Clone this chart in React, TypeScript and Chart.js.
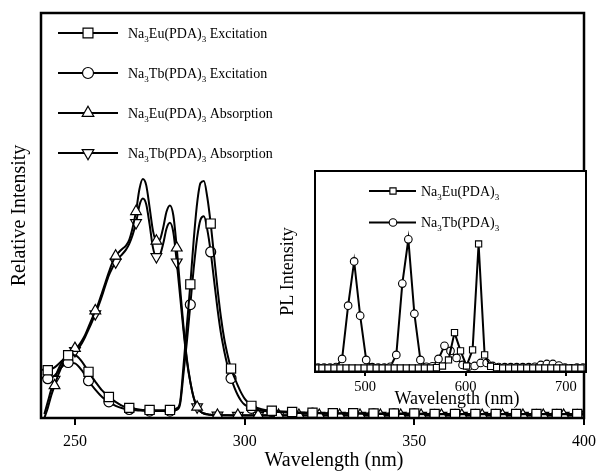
import React, { useEffect, useRef } from 'react';
import { Chart, registerables } from 'chart.js';

Chart.register(...registerables);

const SERIF = '"Liberation Serif", "Times New Roman", serif';

// ---------- main plot data (wavelength nm -> relative intensity) ----------
const absX = [
  241, 242, 243, 244, 245, 246, 247, 248, 249, 250,
  251, 252, 253, 254, 255, 256, 257, 258, 259, 260,
  261, 262, 263, 264, 265, 266, 267, 268, 269, 270,
  271, 272, 273, 274, 275, 276, 277, 278, 279, 280,
  281, 282, 283, 284, 285, 286, 287, 288, 289, 290,
  291, 292,
  298, 304, 310, 316, 322, 328, 334, 340, 346, 352, 358, 364, 370, 376, 382, 388, 394, 400,
];
const euAbsY = [
  0.0, 0.025, 0.055, 0.08, 0.105, 0.125, 0.145, 0.16, 0.168, 0.172,
  0.178, 0.19, 0.205, 0.225, 0.245, 0.265, 0.285, 0.31, 0.335, 0.36,
  0.383, 0.4, 0.41, 0.418, 0.425, 0.44, 0.47, 0.51, 0.565, 0.59,
  0.575, 0.52, 0.462, 0.437, 0.44, 0.47, 0.51, 0.525, 0.5, 0.42,
  0.32, 0.225, 0.145, 0.09, 0.05, 0.027, 0.016, 0.011, 0.009, 0.008,
  0.007, 0.007,
  0.007, 0.007, 0.007, 0.007, 0.007, 0.007, 0.007, 0.007, 0.007, 0.007, 0.007, 0.007, 0.007, 0.007, 0.007, 0.007, 0.007, 0.007,
];
const tbAbsY = [
  0.01, 0.04, 0.07, 0.095, 0.118, 0.135, 0.148, 0.157, 0.162, 0.166,
  0.172, 0.184, 0.2, 0.218, 0.237, 0.257, 0.278, 0.302, 0.328, 0.352,
  0.37, 0.385, 0.396, 0.405, 0.415, 0.43, 0.452, 0.482, 0.525, 0.542,
  0.528, 0.478, 0.42, 0.398, 0.402, 0.43, 0.468, 0.482, 0.458, 0.385,
  0.3, 0.215, 0.14, 0.088, 0.05, 0.027, 0.016, 0.011, 0.009, 0.008,
  0.007, 0.007,
  0.006, 0.006, 0.006, 0.006, 0.006, 0.006, 0.006, 0.006, 0.006, 0.006, 0.006, 0.006, 0.006, 0.006, 0.006, 0.006, 0.006, 0.006,
];

const excX = [
  240, 242, 244, 246, 248, 250, 252, 254, 256, 258, 260, 262, 264, 266, 268, 270, 272, 274, 276, 278, 280,
  281, 282, 283, 284, 285, 286, 287, 288, 289, 290, 291, 292, 293, 294, 295, 296, 297, 298, 299,
  300, 302, 304, 306, 308,
  314, 320, 326, 332, 338, 344, 350, 356, 362, 368, 374, 380, 386, 392, 398, 400,
];
const euExcY = [
  0.12, 0.118, 0.125, 0.14, 0.155, 0.155, 0.14, 0.114, 0.09, 0.068, 0.052, 0.04, 0.03, 0.025, 0.022, 0.02, 0.02, 0.019, 0.019, 0.02, 0.024,
  0.04, 0.13, 0.23, 0.33, 0.44, 0.53, 0.58, 0.585, 0.545, 0.48, 0.4, 0.32, 0.25, 0.195, 0.155, 0.122, 0.1, 0.08, 0.062,
  0.048, 0.03, 0.024, 0.02, 0.018,
  0.015, 0.013, 0.012, 0.012, 0.011, 0.011, 0.011, 0.01, 0.01, 0.01, 0.01, 0.01, 0.01, 0.01, 0.01, 0.01,
];
const tbExcY = [
  0.1, 0.097, 0.105, 0.125, 0.137, 0.135, 0.118, 0.092, 0.07, 0.052, 0.04, 0.03, 0.024, 0.021, 0.019, 0.018, 0.017, 0.017, 0.017, 0.017, 0.02,
  0.035, 0.11, 0.19, 0.28, 0.37, 0.445, 0.49, 0.498, 0.465, 0.41, 0.34, 0.27, 0.21, 0.165, 0.128, 0.098, 0.075, 0.056, 0.042,
  0.033, 0.024, 0.019, 0.017, 0.016,
  0.013, 0.012, 0.011, 0.011, 0.01, 0.01, 0.01, 0.009, 0.009, 0.009, 0.009, 0.009, 0.009, 0.009, 0.009, 0.009,
];

// ---------- inset data (PL emission) ----------
const tbPlX = [
  453, 459, 465, 471, 477, 483, 489, 495, 501, 507,
  513, 519, 525, 531, 537, 543, 549, 555, 561, 567,
  573, 579, 585, 591, 597, 603, 609, 615, 621, 627,
  633, 639, 645, 651, 657, 663, 669, 675, 681, 687,
  693, 699, 705, 711, 717,
];
const tbPlY = [
  0.022, 0.022, 0.022, 0.025, 0.065, 0.33, 0.55, 0.28, 0.06, 0.024,
  0.022, 0.022, 0.026, 0.085, 0.44, 0.66, 0.29, 0.06, 0.026, 0.028,
  0.065, 0.13, 0.105, 0.07, 0.035, 0.026, 0.03, 0.045, 0.045, 0.03,
  0.025, 0.024, 0.024, 0.024, 0.024, 0.024, 0.026, 0.035, 0.04, 0.04,
  0.032, 0.022, 0.018, 0.022, 0.022,
];
const euPlX = [
  451, 457, 463, 469, 475, 481, 487, 493, 499, 505,
  511, 517, 523, 529, 535, 541, 547, 553, 559, 565,
  571, 577, 583, 589, 595, 601, 607, 613, 619, 625,
  631, 637, 643, 649, 655, 661, 667, 673, 679, 685,
  691, 697, 703, 709, 715,
];
const euPlY = [
  0.02, 0.02, 0.02, 0.02, 0.02, 0.02, 0.02, 0.02, 0.02, 0.02,
  0.02, 0.02, 0.02, 0.02, 0.02, 0.02, 0.02, 0.02, 0.02, 0.02,
  0.022, 0.03, 0.06, 0.196, 0.105, 0.03, 0.11, 0.637, 0.085, 0.028,
  0.022, 0.02, 0.02, 0.02, 0.02, 0.02, 0.02, 0.02, 0.02, 0.02,
  0.02, 0.02, 0.02, 0.02, 0.02,
];

const mainXTicks = [250, 300, 350, 400];
const insetXTicks = [500, 600, 700];

const mainXTitle = 'Wavelength (nm)';
const mainYTitle = 'Relative Intensity';
const insetXTitle = 'Wavelength (nm)';
const insetYTitle = 'PL Intensity';

const mainLabels = [
  'Na_3Eu(PDA)_3 Excitation',
  'Na_3Tb(PDA)_3 Excitation',
  'Na_3Eu(PDA)_3 Absorption',
  'Na_3Tb(PDA)_3 Absorption',
];
const insetLabels = ['Na_3Eu(PDA)_3', 'Na_3Tb(PDA)_3'];

// ---------- drawing helpers ----------
function drawRich(ctx: CanvasRenderingContext2D, text: string, x: number, y: number, size: number) {
  const parts = text.split(/(_\d)/);
  let cx = x;
  ctx.textAlign = 'left';
  ctx.textBaseline = 'alphabetic';
  for (const p of parts) {
    if (!p) continue;
    if (p.startsWith('_')) {
      const s = p.slice(1);
      ctx.font = `${Math.round(size * 0.62)}px ${SERIF}`;
      ctx.fillText(s, cx, y + size * 0.3);
      cx += ctx.measureText(s).width;
    } else {
      ctx.font = `${size}px ${SERIF}`;
      ctx.fillText(p, cx, y);
      cx += ctx.measureText(p).width;
    }
  }
}

function drawMarker(ctx: CanvasRenderingContext2D, style: string, rot: number, x: number, y: number, r: number) {
  ctx.beginPath();
  if (style === 'circle') {
    ctx.arc(x, y, r, 0, Math.PI * 2);
  } else if (style === 'rect') {
    const s = r * Math.SQRT1_2;
    ctx.rect(x - s, y - s, 2 * s, 2 * s);
  } else {
    let a = (rot * Math.PI) / 180;
    ctx.moveTo(x + Math.sin(a) * r, y - Math.cos(a) * r);
    a += (2 * Math.PI) / 3;
    ctx.lineTo(x + Math.sin(a) * r, y - Math.cos(a) * r);
    a += (2 * Math.PI) / 3;
    ctx.lineTo(x + Math.sin(a) * r, y - Math.cos(a) * r);
    ctx.closePath();
  }
  ctx.fillStyle = '#fff';
  ctx.fill();
  ctx.stroke();
}

const pts = (xs: number[], ys: number[]) => xs.map((x, i) => ({ x, y: ys[i] }));

const markEvery = (start: number, r: number) => (c: any) =>
  c && c.raw && (c.raw.x - start) % 6 === 0 ? r : 0;

export default function App() {
  const mainRef = useRef<HTMLCanvasElement>(null);
  const insetRef = useRef<HTMLCanvasElement>(null);

  useEffect(() => {
    Chart.defaults.color = '#000';

    const mainStyles = [
      { style: 'rect', rot: 0, r: 6.5 },
      { style: 'circle', rot: 0, r: 5 },
      { style: 'triangle', rot: 0, r: 6.2 },
      { style: 'triangle', rot: 180, r: 6.2 },
    ];

    const lineBase = {
      borderColor: '#000',
      borderWidth: 2,
      pointBackgroundColor: '#fff',
      pointBorderColor: '#000',
      pointBorderWidth: 1.2,
      cubicInterpolationMode: 'monotone' as const,
      fill: false,
      clip: 0,
    };

    const mainDecor = {
      id: 'mainDecor',
      afterDraw(chart: any) {
        const ctx: CanvasRenderingContext2D = chart.ctx;
        const a = chart.chartArea;
        ctx.save();
        ctx.strokeStyle = '#000';
        ctx.lineWidth = 2.5;
        ctx.strokeRect(a.left, a.top, a.right - a.left, a.bottom - a.top);
        ctx.fillStyle = '#000';
        ctx.font = `20px ${SERIF}`;
        ctx.textAlign = 'center';
        ctx.textBaseline = 'middle';
        ctx.fillText(mainXTitle, 334, 461);
        ctx.save();
        ctx.translate(20, (a.top + a.bottom) / 2);
        ctx.rotate(-Math.PI / 2);
        ctx.fillText(mainYTitle, 0, 0);
        ctx.restore();
        // legend
        mainLabels.forEach((lab, i) => {
          const y = 33 + i * 40;
          ctx.strokeStyle = '#000';
          ctx.lineWidth = 2;
          ctx.beginPath();
          ctx.moveTo(58, y);
          ctx.lineTo(118, y);
          ctx.stroke();
          ctx.lineWidth = 1.2;
          const m = mainStyles[i];
          drawMarker(ctx, m.style, m.rot, 88, y, m.r + 0.5);
          ctx.fillStyle = '#000';
          drawRich(ctx, lab, 128, y + 4.5, 14);
        });
        ctx.restore();
      },
    };

    const main = new Chart(mainRef.current!, {
      type: 'line',
      data: {
        datasets: [
          { ...lineBase, label: mainLabels[0], data: pts(excX, euExcY), pointStyle: 'rect', pointRadius: markEvery(242, 6.5) },
          { ...lineBase, label: mainLabels[1], data: pts(excX, tbExcY), pointStyle: 'circle', pointRadius: markEvery(242, 5) },
          { ...lineBase, label: mainLabels[2], data: pts(absX, euAbsY), pointStyle: 'triangle', pointRadius: markEvery(244, 6.2) },
          { ...lineBase, label: mainLabels[3], data: pts(absX, tbAbsY), pointStyle: 'triangle', pointRotation: 180, pointRadius: markEvery(244, 6.2) },
        ] as any,
      },
      options: {
        animation: false,
        responsive: false,
        events: [],
        layout: { padding: { left: 41, right: 17, top: 13, bottom: 0 } },
        plugins: { legend: { display: false }, tooltip: { enabled: false } },
        scales: {
          x: {
            type: 'linear',
            min: 240,
            max: 400,
            afterBuildTicks: (s: any) => { s.ticks = mainXTicks.map((v) => ({ value: v })); },
            afterFit: (s: any) => { s.height = 56; },
            border: { display: false },
            grid: { drawOnChartArea: false, drawTicks: true, tickLength: 7, color: '#000', lineWidth: 2 },
            ticks: { font: { family: SERIF, size: 16 }, color: '#000', padding: 7, maxRotation: 0 },
          },
          y: { display: false, min: 0, max: 1 },
        },
      } as any,
      plugins: [mainDecor],
    });

    const insetStyles = [
      { style: 'rect', rot: 0, r: 4.4 },
      { style: 'circle', rot: 0, r: 3.8 },
    ];

    const insetDecor = {
      id: 'insetDecor',
      beforeDraw(chart: any) {
        const ctx: CanvasRenderingContext2D = chart.ctx;
        const a = chart.chartArea;
        ctx.save();
        ctx.fillStyle = '#fff';
        ctx.fillRect(a.left, a.top, a.right - a.left, a.bottom - a.top);
        ctx.restore();
      },
      afterDraw(chart: any) {
        const ctx: CanvasRenderingContext2D = chart.ctx;
        const a = chart.chartArea;
        ctx.save();
        ctx.strokeStyle = '#000';
        ctx.lineWidth = 2;
        ctx.strokeRect(a.left, a.top, a.right - a.left, a.bottom - a.top);
        ctx.fillStyle = '#000';
        ctx.font = `18px ${SERIF}`;
        ctx.textAlign = 'center';
        ctx.textBaseline = 'middle';
        ctx.fillText(insetXTitle, 187, 239);
        ctx.save();
        ctx.translate(18, (a.top + a.bottom) / 2);
        ctx.rotate(-Math.PI / 2);
        ctx.fillText(insetYTitle, 0, 0);
        ctx.restore();
        insetLabels.forEach((lab, i) => {
          const y = 31 + i * 31.5;
          ctx.strokeStyle = '#000';
          ctx.lineWidth = 2;
          ctx.beginPath();
          ctx.moveTo(99, y);
          ctx.lineTo(146, y);
          ctx.stroke();
          ctx.lineWidth = 1.1;
          const m = insetStyles[i];
          drawMarker(ctx, m.style, m.rot, 123, y, m.r);
          ctx.fillStyle = '#000';
          drawRich(ctx, lab, 151, y + 4.5, 14);
        });
        ctx.restore();
      },
    };

    const inset = new Chart(insetRef.current!, {
      type: 'line',
      data: {
        datasets: [
          { label: insetLabels[0], data: pts(euPlX, euPlY), borderColor: '#000', borderWidth: 2, tension: 0, pointStyle: 'rect', pointRadius: 4.4, pointBackgroundColor: '#fff', pointBorderColor: '#000', pointBorderWidth: 1.1 },
          { label: insetLabels[1], data: pts(tbPlX, tbPlY), borderColor: '#000', borderWidth: 2, tension: 0, pointStyle: 'circle', pointRadius: 3.8, pointBackgroundColor: '#fff', pointBorderColor: '#000', pointBorderWidth: 1.1 },
        ] as any,
      },
      options: {
        animation: false,
        responsive: false,
        events: [],
        layout: { padding: { left: 45, right: 17, top: 11, bottom: 0 } },
        plugins: { legend: { display: false }, tooltip: { enabled: false } },
        scales: {
          x: {
            type: 'linear',
            min: 450,
            max: 720,
            afterBuildTicks: (s: any) => { s.ticks = insetXTicks.map((v) => ({ value: v })); },
            afterFit: (s: any) => { s.height = 38; },
            border: { display: false },
            grid: { drawOnChartArea: false, drawTicks: true, tickLength: 4, color: '#000', lineWidth: 2 },
            ticks: { font: { family: SERIF, size: 14.5 }, color: '#000', padding: 2, maxRotation: 0 },
          },
          y: { display: false, min: 0, max: 1 },
        },
      } as any,
      plugins: [insetDecor],
    });

    return () => {
      main.destroy();
      inset.destroy();
    };
  }, []);

  return (
    <div style={{ position: 'absolute', left: 0, top: 0, width: 603, height: 474, background: '#fff' }}>
      <canvas ref={mainRef} width={603} height={474} style={{ position: 'absolute', left: 0, top: 0 }} />
      <canvas ref={insetRef} width={333} height={250} style={{ position: 'absolute', left: 270, top: 160 }} />
    </div>
  );
}
